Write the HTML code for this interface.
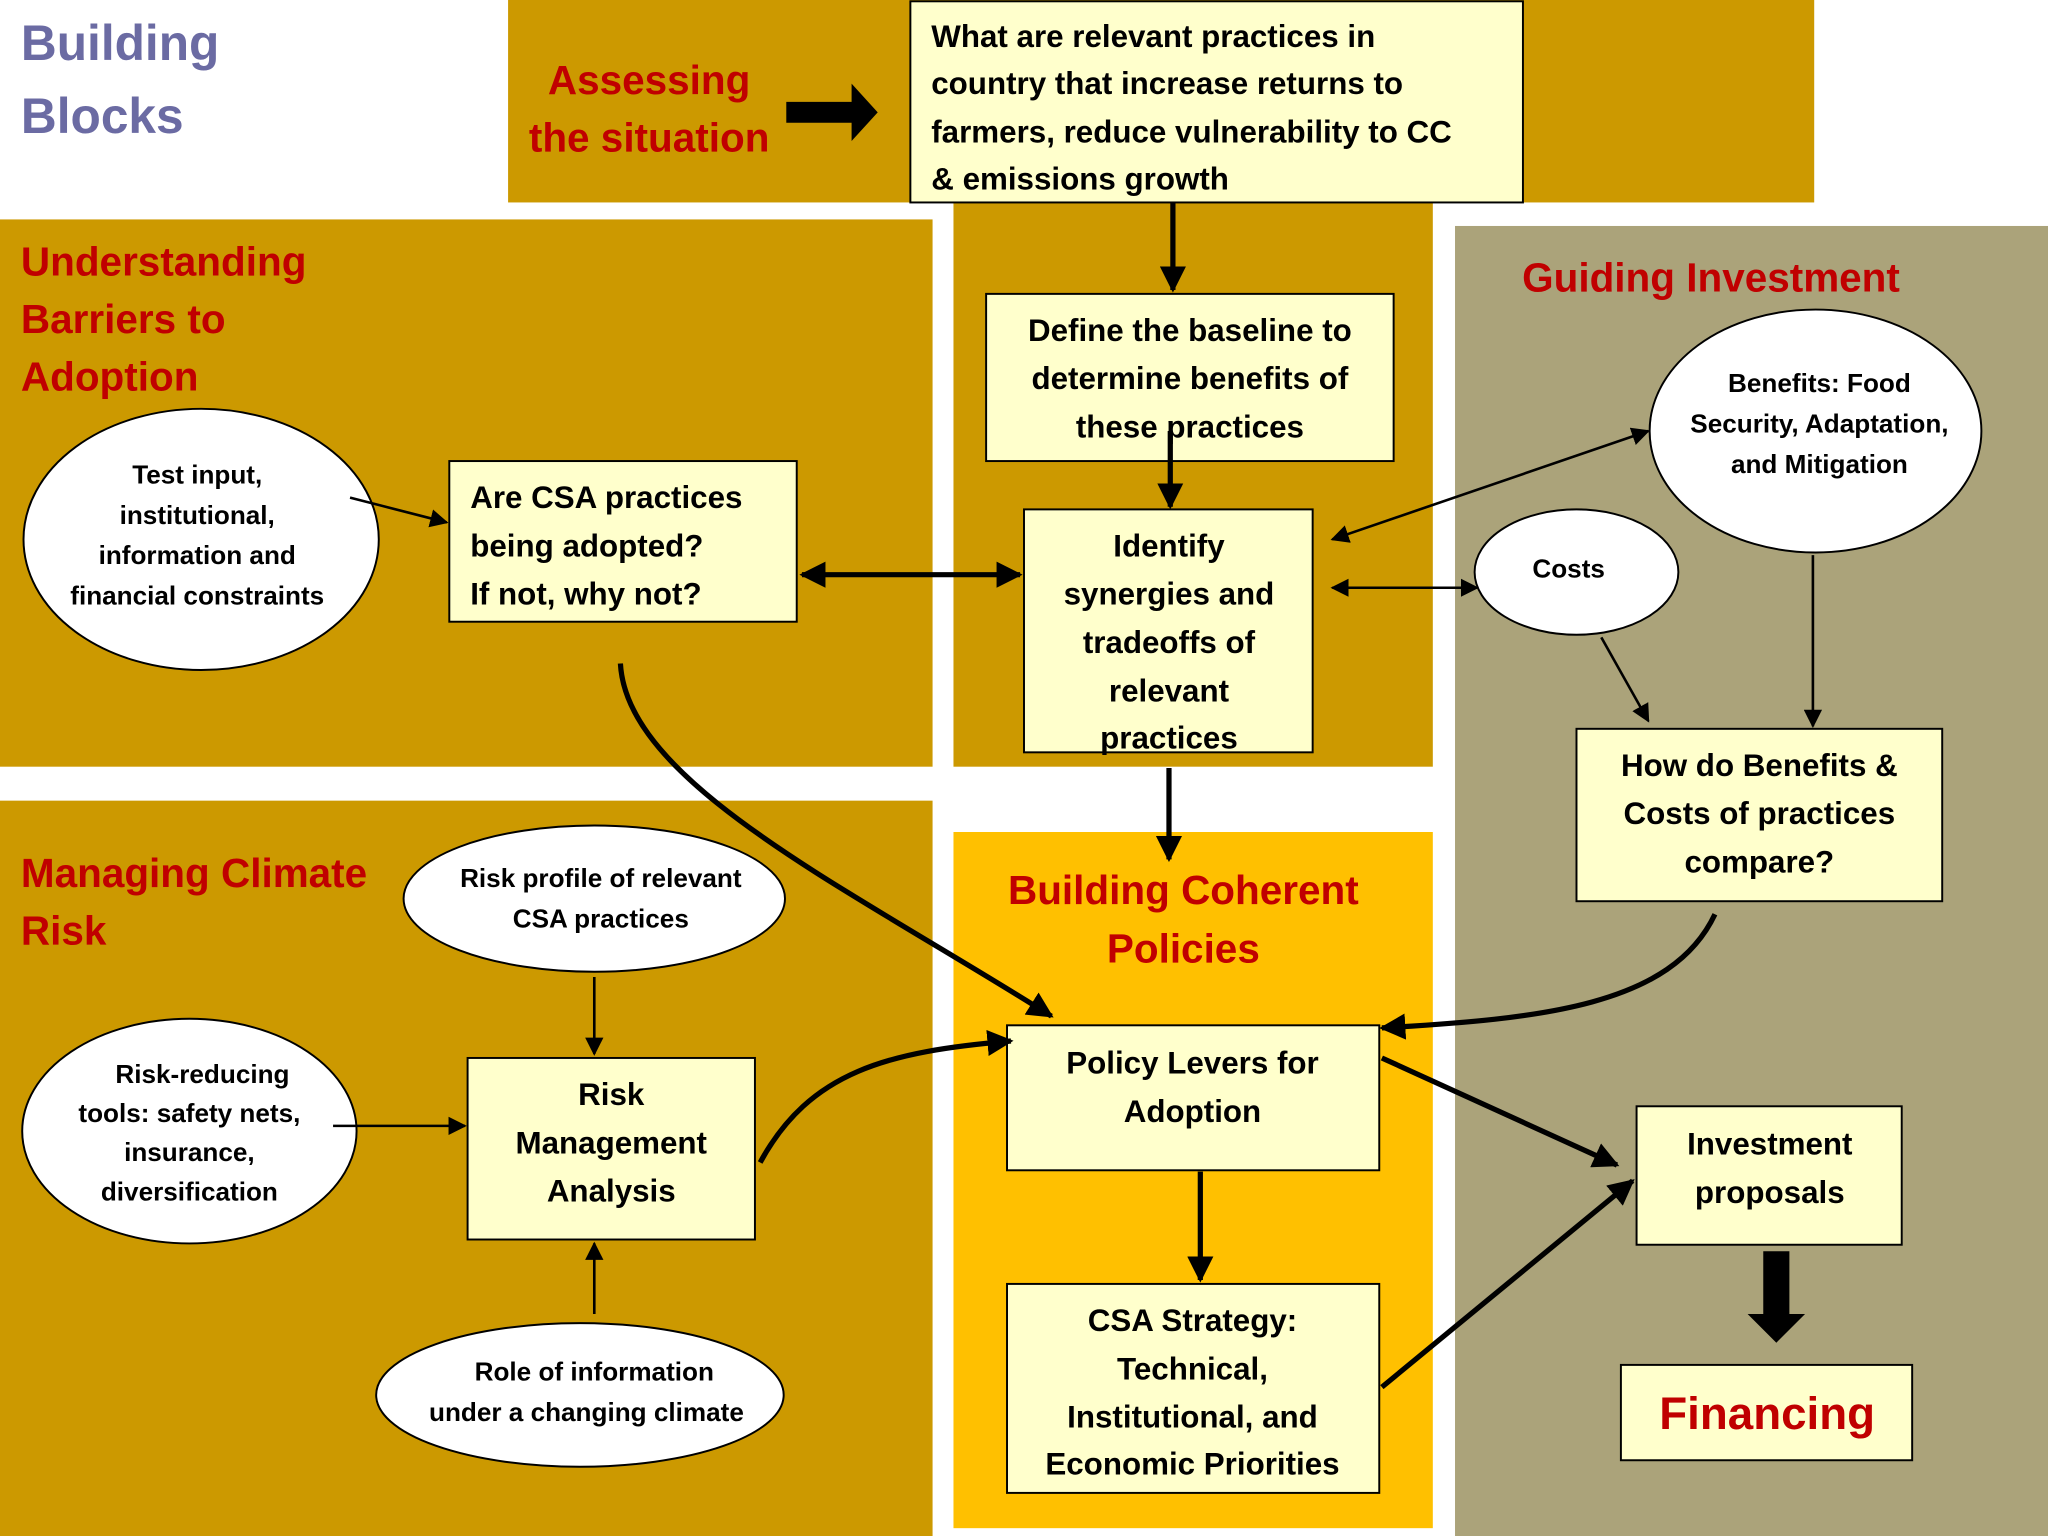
<!DOCTYPE html>
<html><head><meta charset="utf-8"><style>
html,body{margin:0;padding:0;background:#fff}
svg{display:block}
text{font-family:"Liberation Sans",sans-serif;font-weight:bold}
</style></head><body>
<svg width="2048" height="1536" viewBox="0 0 1568 1176" xmlns="http://www.w3.org/2000/svg">
<defs>
<marker id="a" viewBox="0 0 10 10" refX="9" refY="5" markerWidth="5" markerHeight="5" orient="auto-start-reverse"><path d="M0,0L10,5L0,10z" fill="#000"/></marker>
<marker id="s" viewBox="0 0 10 10" refX="9" refY="5" markerWidth="7" markerHeight="7" orient="auto-start-reverse"><path d="M0,0L10,5L0,10z" fill="#000"/></marker>
</defs>
<rect width="1568" height="1176" fill="#fff"/>
<!-- panels -->
<rect x="389" y="0" width="1000" height="155" fill="#CC9900"/>
<rect x="0" y="168" width="714" height="419" fill="#CC9900"/>
<rect x="730" y="155" width="367" height="432" fill="#CC9900"/>
<rect x="1114" y="173" width="454" height="1003" fill="#ABA37A"/>
<rect x="0" y="613" width="714" height="563" fill="#CC9900"/>
<rect x="730" y="637" width="367" height="533" fill="#FFC000"/>

<text x="16" y="46" font-size="38" fill="#6B6BA3">Building</text>
<text x="16" y="102" font-size="38" fill="#6B6BA3">Blocks</text>

<g fill="#C00000" font-size="31">
<text x="497" y="72" text-anchor="middle">Assessing</text>
<text x="497" y="116" text-anchor="middle">the situation</text>
<text x="16" y="211">Understanding</text>
<text x="16" y="255">Barriers to</text>
<text x="16" y="299">Adoption</text>
<text x="1310" y="223" text-anchor="middle">Guiding Investment</text>
<text x="16" y="679">Managing Climate</text>
<text x="16" y="723">Risk</text>
<text x="906" y="692" text-anchor="middle">Building Coherent</text>
<text x="906" y="737" text-anchor="middle">Policies</text>
</g>

<!-- big arrow top -->
<polygon points="602,78 652,78 652,64 672,86 652,108 652,94 602,94" fill="#000"/>

<!-- boxes -->
<g fill="#FFFFCC" stroke="#000" stroke-width="1.5">
<rect x="697" y="1" width="469" height="154"/>
<rect x="755" y="225" width="312" height="128"/>
<rect x="344" y="353" width="266" height="123"/>
<rect x="784" y="390" width="221" height="186"/>
<rect x="1207" y="558" width="280" height="132"/>
<rect x="771" y="785" width="285" height="111"/>
<rect x="771" y="983" width="285" height="160"/>
<rect x="358" y="810" width="220" height="139"/>
<rect x="1253" y="847" width="203" height="106"/>
<rect x="1241" y="1045" width="223" height="73"/>
</g>
<g fill="#fff" stroke="#000" stroke-width="1.5">
<ellipse cx="154" cy="413" rx="136" ry="100"/>
<ellipse cx="1390" cy="330" rx="127" ry="93"/>
<ellipse cx="1207" cy="438" rx="78" ry="48"/>
<ellipse cx="455" cy="688" rx="146" ry="56"/>
<ellipse cx="145" cy="866" rx="128" ry="86"/>
<ellipse cx="444" cy="1068" rx="156" ry="55"/>
</g>

<g font-size="24" fill="#000">
<text x="713" y="36">What are relevant practices in</text>
<text x="713" y="72">country that increase returns to</text>
<text x="713" y="109">farmers, reduce vulnerability to CC</text>
<text x="713" y="145">&amp; emissions growth</text>
</g>
<g font-size="24" fill="#000" text-anchor="middle">
<text x="911" y="261">Define the baseline to</text>
<text x="911" y="298">determine benefits of</text>
<text x="911" y="335">these practices</text>
<text x="895" y="426">Identify</text>
<text x="895" y="463">synergies and</text>
<text x="895" y="500">tradeoffs of</text>
<text x="895" y="537">relevant</text>
<text x="895" y="573">practices</text>
<text x="1347" y="594">How do Benefits &amp;</text>
<text x="1347" y="631">Costs of practices</text>
<text x="1347" y="668">compare?</text>
<text x="913" y="822">Policy Levers for</text>
<text x="913" y="859">Adoption</text>
<text x="913" y="1019">CSA Strategy:</text>
<text x="913" y="1056">Technical,</text>
<text x="913" y="1093">Institutional, and</text>
<text x="913" y="1129">Economic Priorities</text>
<text x="468" y="846">Risk</text>
<text x="468" y="883">Management</text>
<text x="468" y="920">Analysis</text>
<text x="1355" y="884">Investment</text>
<text x="1355" y="921">proposals</text>
</g>
<g font-size="24" fill="#000">
<text x="360" y="389">Are CSA practices</text>
<text x="360" y="426">being adopted?</text>
<text x="360" y="463">If not, why not?</text>
</g>
<text x="1353" y="1094" font-size="35" fill="#C00000" text-anchor="middle">Financing</text>

<g font-size="20" fill="#000" text-anchor="middle">
<text x="151" y="370">Test input,</text>
<text x="151" y="401">institutional,</text>
<text x="151" y="432">information and</text>
<text x="151" y="463">financial constraints</text>
<text x="1393" y="300">Benefits: Food</text>
<text x="1393" y="331">Security, Adaptation,</text>
<text x="1393" y="362">and Mitigation</text>
<text x="1201" y="442">Costs</text>
<text x="460" y="679">Risk profile of relevant</text>
<text x="460" y="710">CSA practices</text>
<text x="155" y="829">Risk-reducing</text>
<text x="145" y="859">tools: safety nets,</text>
<text x="145" y="889">insurance,</text>
<text x="145" y="919">diversification</text>
<text x="455" y="1057">Role of information</text>
<text x="449" y="1088">under a changing climate</text>
</g>

<!-- connectors -->
<g stroke="#000" fill="none">
<line x1="898" y1="155" x2="898" y2="222" stroke-width="4" marker-end="url(#a)"/>
<line x1="896" y1="330" x2="896" y2="388" stroke-width="4" marker-end="url(#a)"/>
<line x1="614" y1="440" x2="781" y2="440" stroke-width="4" marker-start="url(#a)" marker-end="url(#a)"/>
<line x1="268" y1="381" x2="342" y2="400" stroke-width="2" marker-end="url(#s)"/>
<line x1="1020" y1="413" x2="1262" y2="330" stroke-width="2" marker-start="url(#s)" marker-end="url(#s)"/>
<line x1="1020" y1="450" x2="1131" y2="450" stroke-width="2" marker-start="url(#s)" marker-end="url(#s)"/>
<line x1="1388" y1="425" x2="1388" y2="556" stroke-width="2" marker-end="url(#s)"/>
<line x1="1226" y1="488" x2="1262" y2="552" stroke-width="2" marker-end="url(#s)"/>
<line x1="895" y1="588" x2="895" y2="658" stroke-width="4" marker-end="url(#a)"/>
<path d="M475,508 C480,600 650,680 805,778" stroke-width="4" marker-end="url(#a)"/>
<path d="M1313,700 C1280,770 1180,780 1058,787" stroke-width="4" marker-end="url(#a)"/>
<path d="M582,890 C620,820 680,805 774,797" stroke-width="4" marker-end="url(#a)"/>
<line x1="455" y1="748" x2="455" y2="807" stroke-width="2" marker-end="url(#s)"/>
<line x1="255" y1="862" x2="356" y2="862" stroke-width="2" marker-end="url(#s)"/>
<line x1="455" y1="1006" x2="455" y2="952" stroke-width="2" marker-end="url(#s)"/>
<line x1="919" y1="897" x2="919" y2="980" stroke-width="4" marker-end="url(#a)"/>
<line x1="1058" y1="810" x2="1238" y2="892" stroke-width="4" marker-end="url(#a)"/>
<line x1="1058" y1="1062" x2="1250" y2="904" stroke-width="4" marker-end="url(#a)"/>
</g>
<polygon points="1350,958 1370,958 1370,1006 1382,1006 1360,1028 1338,1006 1350,1006" fill="#000"/>
</svg>
</body></html>
